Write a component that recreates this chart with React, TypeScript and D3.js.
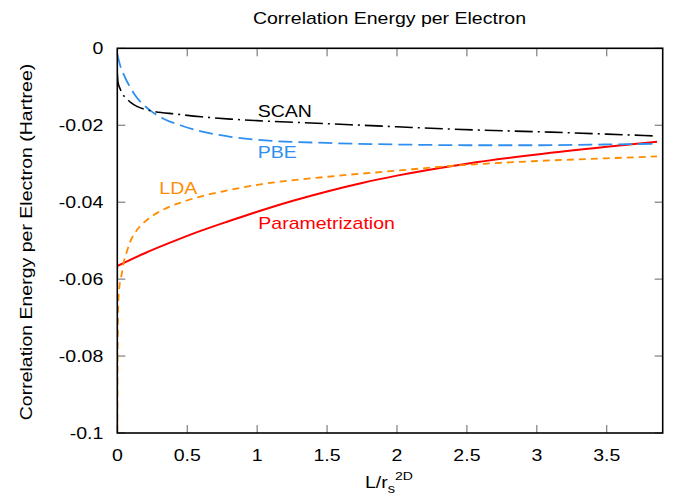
import React from "react";
import * as d3 from "d3";

const xTicks = [0, 0.5, 1, 1.5, 2, 2.5, 3, 3.5];
const xTickLabels = ["0", "0.5", "1", "1.5", "2", "2.5", "3", "3.5"];
const yTicks = [0, -0.02, -0.04, -0.06, -0.08, -0.1];
const yTickLabels = ["0", "-0.02", "-0.04", "-0.06", "-0.08", "-0.1"];

const scanX = [0, 0.005, 0.02, 0.04, 0.067, 0.1, 0.14, 0.2, 0.26, 0.42, 0.6, 0.81, 1.0, 1.5, 2.0, 2.38, 3.1, 3.5, 3.86];
const scanY = [-0.0065, -0.0088, -0.0105, -0.012, -0.0131, -0.0142, -0.0151, -0.0159, -0.0164, -0.0171, -0.0178, -0.0184, -0.0188, -0.0196, -0.0204, -0.021, -0.0218, -0.0223, -0.0228];

const pbeX = [0.001, 0.01, 0.025, 0.043, 0.065, 0.09, 0.12, 0.16, 0.23, 0.33, 0.45, 0.6, 0.81, 1.0, 1.5, 2.19, 2.5, 3.0, 3.5, 3.86];
const pbeY = [-0.0015, -0.003, -0.005, -0.0066, -0.0083, -0.01, -0.0118, -0.0137, -0.016, -0.0183, -0.02, -0.0216, -0.023, -0.0238, -0.0246, -0.0251, -0.0252, -0.0252, -0.025, -0.0248];

const ldaX = [0.0002, 0.001, 0.003, 0.005, 0.008, 0.015, 0.03, 0.045, 0.067, 0.09, 0.139, 0.21, 0.33, 0.47, 0.64, 0.78, 1.035, 1.5, 2.0, 2.38, 3.0, 3.5, 3.86];
const ldaY = [-0.1, -0.088, -0.076, -0.07, -0.0655, -0.062, -0.059, -0.0558, -0.053, -0.0505, -0.0473, -0.0447, -0.0419, -0.0399, -0.0381, -0.037, -0.0353, -0.0334, -0.0318, -0.0306, -0.0293, -0.0286, -0.0281];

const parX = [0, 0.2, 0.4, 0.6, 0.8, 1.0, 1.25, 1.5, 1.75, 2.0, 2.5, 3.0, 3.5, 3.86];
const parY = [-0.0566, -0.0532, -0.0502, -0.0474, -0.0449, -0.0425, -0.0397, -0.0372, -0.035, -0.0331, -0.03, -0.0276, -0.0256, -0.0243];

const W = 688;
const H = 497;
const M = { left: 117.3, right: 662.7, top: 48.3, bottom: 433 };
const FONT = "'Liberation Sans', Arial, Helvetica, sans-serif";
const SX = 1.22;

function T({ x, y, children, anchor = "start", fill = "#000", size = 16, rotate = 0 }: any) {
  return (
    <text
      transform={`translate(${x},${y}) rotate(${rotate}) scale(${SX},1)`}
      textAnchor={anchor}
      fill={fill}
      fontSize={size}
      fontFamily={FONT}
    >
      {children}
    </text>
  );
}

export default function App() {
  const x = d3.scaleLinear().domain([0, 3.9]).range([M.left, M.right]);
  const y = d3.scaleLinear().domain([-0.1, 0]).range([M.bottom, M.top]);
  const line = d3
    .line<[number, number]>()
    .x((d) => x(d[0]))
    .y((d) => y(d[1]))
    .curve(d3.curveMonotoneX);
  const zip = (a: number[], b: number[]) => a.map((v, i) => [v, b[i]] as [number, number]);

  const series = [
    { xs: parX, ys: parY, color: "#ff0000", dash: "none", w: 2 },
    { xs: ldaX, ys: ldaY, color: "#ff8c00", dash: "7,5", w: 1.8 },
    { xs: pbeX, ys: pbeY, color: "#2f8ff0", dash: "14,6", w: 1.8 },
    { xs: scanX, ys: scanY, color: "#000000", dash: "18,5,2,5", w: 1.6 },
  ];

  return (
    <svg width={W} height={H} style={{ position: "absolute", left: 0, top: 0, background: "#fff" }}>
      <rect x={0} y={0} width={W} height={H} fill="#fff" />
      <defs>
        <clipPath id="plotclip">
          <rect x={M.left} y={M.top} width={M.right - M.left} height={M.bottom - M.top} />
        </clipPath>
      </defs>
      {xTicks.map((t, i) => (
        <g key={"xt" + i}>
          <line x1={x(t)} x2={x(t)} y1={M.bottom} y2={M.bottom - 8} stroke="#666" strokeWidth={1} />
          <line x1={x(t)} x2={x(t)} y1={M.top} y2={M.top + 8} stroke="#666" strokeWidth={1} />
          <T x={x(t)} y={461} anchor="middle">{xTickLabels[i]}</T>
        </g>
      ))}
      {yTicks.map((t, i) => (
        <g key={"yt" + i}>
          <line x1={M.left} x2={M.left + 8} y1={y(t)} y2={y(t)} stroke="#666" strokeWidth={1} />
          <line x1={M.right} x2={M.right - 8} y1={y(t)} y2={y(t)} stroke="#666" strokeWidth={1} />
          <T x={103.3} y={y(t) + 5.8} anchor="end">{yTickLabels[i]}</T>
        </g>
      ))}
      <g clipPath="url(#plotclip)">
        {series.map((s, i) => (
          <path
            key={i}
            d={line(zip(s.xs, s.ys)) || ""}
            fill="none"
            stroke={s.color}
            strokeWidth={s.w}
            strokeDasharray={s.dash}
          />
        ))}
      </g>
      <rect
        x={M.left}
        y={M.top}
        width={M.right - M.left}
        height={M.bottom - M.top}
        fill="none"
        stroke="#000"
        strokeWidth={1.6}
      />
      <T x={389.5} y={24.3} anchor="middle">Correlation Energy per Electron</T>
      <T x={31.7} y={242} anchor="middle" rotate={-90}>Correlation Energy per Electron (Hartree)</T>
      <text
        transform={`translate(365,488) scale(${SX},1)`}
        fontFamily={FONT}
        fontSize={16}
        fill="#000"
      >
        <tspan>L/r</tspan>
        <tspan fontSize={12} dy={5}>s</tspan>
        <tspan fontSize={11.5} dy={-13}>2D</tspan>
      </text>
      <T x={257.7} y={116.7} fill="#000">SCAN</T>
      <T x={257.7} y={158.3} fill="#2f8ff0">PBE</T>
      <T x={159.3} y={194} fill="#ff8c00">LDA</T>
      <T x={258.3} y={229} fill="#ff0000">Parametrization</T>
    </svg>
  );
}
